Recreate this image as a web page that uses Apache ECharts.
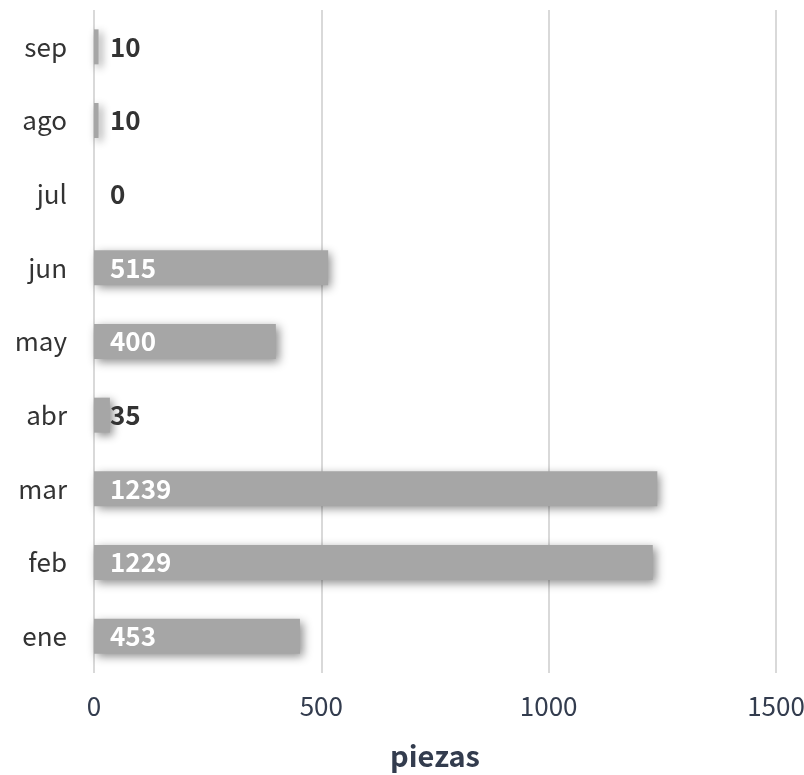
<!DOCTYPE html>
<html lang="es">
<head>
	<meta charset="UTF-8">
	<title>piezas por mes</title>
	<script src="https://cdn.jsdelivr.net/npm/echarts@6/dist/echarts.min.js"></script>
</head>
<body style="margin:0;background:#fff;">
	<div id="chart" style="width:804px;height:775px;"></div>
	<script>
		// datos
		const meses = ['ene', 'feb', 'mar', 'abr', 'may', 'jun', 'jul', 'ago', 'sep'];
		const piezas = [453, 1229, 1239, 35, 400, 515, 0, 10, 10];
		const xTicks = [0, 500, 1000, 1500];

		const font = '"Noto Sans CJK SC", "Noto Sans", sans-serif';
		let chart = echarts.init(document.getElementById('chart'));

		chart.setOption({
			animation: false,
			textStyle: { fontFamily: font },
			grid: { left: 94, right: 28, top: 10, bottom: 102, containLabel: false, outerBoundsMode: 'none' },
			xAxis: {
				type: 'value',
				min: xTicks[0],
				max: xTicks[xTicks.length - 1],
				interval: 500,
				name: 'piezas',
				nameLocation: 'middle',
				nameGap: 68,
				nameTextStyle: { fontSize: 29, fontWeight: 'bold', color: '#333c4e', fontFamily: font },
				axisLine: { show: false },
				axisTick: { show: false },
				axisLabel: {
					fontSize: 26, color: '#333c4e', margin: 20, fontFamily: font,
					formatter: function (v) { return String(v); }
				},
				splitLine: { lineStyle: { color: '#d9d9d9', width: 2 } }
			},
			yAxis: {
				type: 'category',
				data: meses,
				axisLine: { show: false },
				axisTick: { show: false },
				axisLabel: { fontSize: 26, color: '#333', margin: 27, fontFamily: font }
			},
			series: [{
				type: 'bar',
				data: piezas.map(function (v) {
					return {
						value: v,
						label: { color: v > 100 ? '#fff' : '#333' }
					};
				}),
				barWidth: 35,
				itemStyle: {
					color: '#a6a6a6',
					shadowColor: 'rgba(0,0,0,0.45)',
					shadowBlur: 9,
					shadowOffsetX: 3,
					shadowOffsetY: 3
				},
				label: {
					show: true,
					position: 'insideLeft',
					distance: 16,
					fontSize: 26,
					fontWeight: 'bold',
					fontFamily: font
				}
			}]
		});
	</script>
</body>
</html>
